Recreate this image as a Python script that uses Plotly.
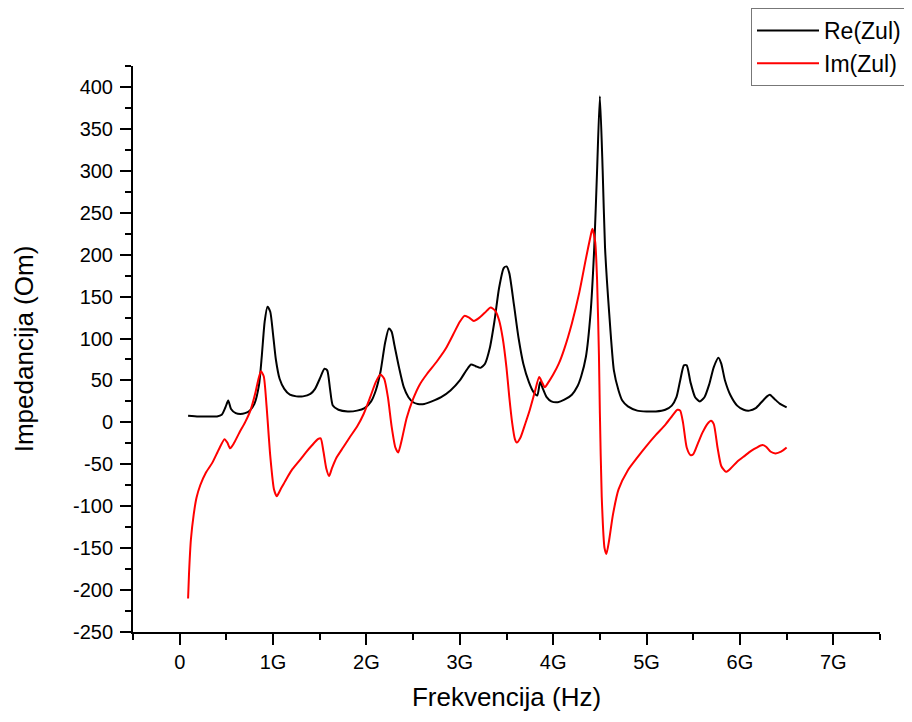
import plotly.graph_objects as go

# Frequencies in GHz (converted to Hz for plotting)
re_f = [0.09, 0.2, 0.3, 0.4, 0.45, 0.49, 0.52, 0.55, 0.6, 0.65, 0.7, 0.75, 0.8, 0.85, 0.88, 0.91, 0.94, 0.97,
        1.0, 1.03, 1.07, 1.12, 1.18, 1.25, 1.32, 1.4, 1.45, 1.5, 1.55, 1.58, 1.61, 1.64, 1.7, 1.8, 1.9, 1.98,
        2.05, 2.1, 2.15, 2.2, 2.24, 2.27, 2.3, 2.35, 2.4, 2.45, 2.5, 2.55, 2.62, 2.7, 2.8, 2.9, 3.0, 3.07,
        3.12, 3.17, 3.22, 3.27, 3.32, 3.37, 3.42, 3.47, 3.5, 3.53, 3.58, 3.63, 3.68, 3.74, 3.79, 3.83, 3.86,
        3.89, 3.93, 3.98, 4.05, 4.12, 4.2, 4.26, 4.3, 4.35, 4.4, 4.44, 4.47, 4.5, 4.53, 4.555, 4.6, 4.65,
        4.7, 4.74, 4.8, 4.9, 5.0, 5.1, 5.2, 5.27, 5.32, 5.36, 5.4, 5.43, 5.47, 5.52, 5.57, 5.62, 5.67, 5.72,
        5.77, 5.8, 5.84, 5.9, 5.97, 6.04, 6.1, 6.17, 6.23, 6.29, 6.32, 6.37, 6.43, 6.5]
re_z = [8, 7, 7, 7, 9, 18, 26, 16, 11, 10, 11, 14, 22, 45, 80, 120, 138, 132,
        105, 75, 52, 40, 33, 31, 31, 34, 40, 52, 64, 62, 40, 20, 15, 13, 14, 17,
        25, 38, 60, 95, 112, 108, 92, 65, 42, 30, 24, 22, 22, 25, 30, 38, 50, 62,
        69, 67, 65, 70, 88, 120, 160, 184, 186, 178, 140, 100, 70, 48, 36, 32, 48,
        40, 30, 25, 24, 27, 33, 43, 55, 78, 130, 209, 300, 389, 300, 209, 130, 62,
        38, 26, 19, 14, 13, 13, 15, 20, 30, 50, 68, 68, 48, 30, 25, 30, 45, 66,
        77, 70, 50, 32, 20, 15, 14, 17, 24, 31, 33, 28, 22, 18]

im_f = [0.09, 0.1, 0.12, 0.15, 0.18, 0.22, 0.28, 0.35, 0.42, 0.48, 0.51, 0.54, 0.58, 0.64, 0.7, 0.76, 0.81,
        0.84, 0.87, 0.9, 0.93, 0.97, 1.01, 1.04, 1.08, 1.14, 1.2, 1.28, 1.35, 1.42, 1.48, 1.51, 1.54, 1.57,
        1.6, 1.63, 1.68, 1.75, 1.82, 1.9, 1.97, 2.04, 2.1, 2.15, 2.19, 2.23, 2.27, 2.31, 2.34, 2.38, 2.43,
        2.5, 2.57, 2.65, 2.75, 2.85, 2.93, 3.0, 3.05, 3.1, 3.15, 3.2, 3.27, 3.33, 3.38, 3.42, 3.46, 3.5,
        3.53, 3.56, 3.59, 3.61, 3.65, 3.7, 3.75, 3.8, 3.85, 3.88, 3.91, 3.95, 4.0, 4.06, 4.12, 4.2, 4.28,
        4.35, 4.4, 4.42, 4.45, 4.47, 4.49, 4.5, 4.52, 4.55, 4.57, 4.6, 4.64, 4.7, 4.8, 4.9, 5.0, 5.1, 5.2,
        5.27, 5.33, 5.36, 5.39, 5.43, 5.47, 5.5, 5.55, 5.6, 5.65, 5.69, 5.72, 5.76, 5.8, 5.85, 5.9, 5.97,
        6.05, 6.12, 6.18, 6.24, 6.28, 6.33, 6.38, 6.44, 6.5]
im_z = [-210, -180, -140, -110, -90, -75, -60, -48, -32, -20, -24, -31, -25, -12, 0, 15, 35,
        50, 61, 55, 20, -40, -80, -88, -80, -68, -57, -46, -36, -27, -20, -19, -35, -55,
        -64, -55, -42, -30, -18, -5, 10, 30, 48, 57, 52, 30, -5, -30, -36, -20, 5,
        28, 45, 58, 72, 88, 105, 120, 127, 125, 121, 124, 131, 137, 133, 122, 100, 65,
        30, 0, -20, -24, -18, -2, 15, 35, 54, 48, 42, 48, 57, 70, 88, 118, 155,
        195, 222, 231, 215, 170, 80, 11, -89, -150, -157, -140, -110, -80, -57, -42, -28, -15, -3,
        7, 15, 14, 0, -30, -39, -38, -25, -12, -2, 2, -2, -30, -52, -59, -55, -47,
        -40, -34, -30, -27, -29, -35, -37, -35, -30]

x_tickvals = [0, 1e9, 2e9, 3e9, 4e9, 5e9, 6e9, 7e9]
x_ticktext = ["0", "1G", "2G", "3G", "4G", "5G", "6G", "7G"]
y_tickvals = list(range(-250, 401, 50))
y_ticktext = [str(v) for v in y_tickvals]  # plain hyphen minus, as in the original

fig = go.Figure()
fig.add_trace(go.Scatter(x=[f * 1e9 for f in re_f], y=re_z, mode="lines", name="Re(Zul)",
                         line=dict(color="black", width=2, shape="spline", smoothing=0.6)))
fig.add_trace(go.Scatter(x=[f * 1e9 for f in im_f], y=im_z, mode="lines", name="Im(Zul)",
                         line=dict(color="red", width=2, shape="spline", smoothing=0.6)))

# page is offset by 8px (body margin); margins are in figure coordinates
L, R, T, B = 125, 40, 58, 98
PW, PH = 912 - L - R, 722 - T - B

font = "Arial, Liberation Sans, sans-serif"
fig.update_layout(
    width=912, height=722,
    margin=dict(l=L, r=R, t=T, b=B, autoexpand=False),
    plot_bgcolor="white", paper_bgcolor="white",
    font=dict(family=font, color="black", size=20),
    showlegend=True,
    legend=dict(x=(899 - L) / PW, y=(722 - B) / PH,
                xanchor="right", yanchor="top", bordercolor="#777", borderwidth=1,
                bgcolor="white", font=dict(size=23, family=font), itemwidth=62,
                tracegroupgap=0),
    xaxis=dict(range=[-0.5e9, 7.5e9], tickvals=x_tickvals, ticktext=x_ticktext,
               showgrid=False, zeroline=False, showline=True, linecolor="black", linewidth=2,
               ticks="outside", ticklen=11, tickwidth=2, tickcolor="black",
               minor=dict(dtick=0.5e9, tick0=0, ticks="outside", ticklen=6, tickwidth=2, tickcolor="black"),
               title=dict(text="Frekvencija (Hz)", font=dict(size=26), standoff=16),
               tickfont=dict(size=20)),
    yaxis=dict(range=[-250, 425], tickvals=y_tickvals, ticktext=y_ticktext,
               showgrid=False, zeroline=False, showline=True, linecolor="black", linewidth=2,
               ticks="outside", ticklen=11, tickwidth=2, tickcolor="black",
               minor=dict(dtick=25, tick0=0, ticks="outside", ticklen=6, tickwidth=2, tickcolor="black"),
               title=dict(text="Impedancija (Om)", font=dict(size=26), standoff=32),
               tickfont=dict(size=20), ticklabelstandoff=3),
)

fig.write_html("out.html")
